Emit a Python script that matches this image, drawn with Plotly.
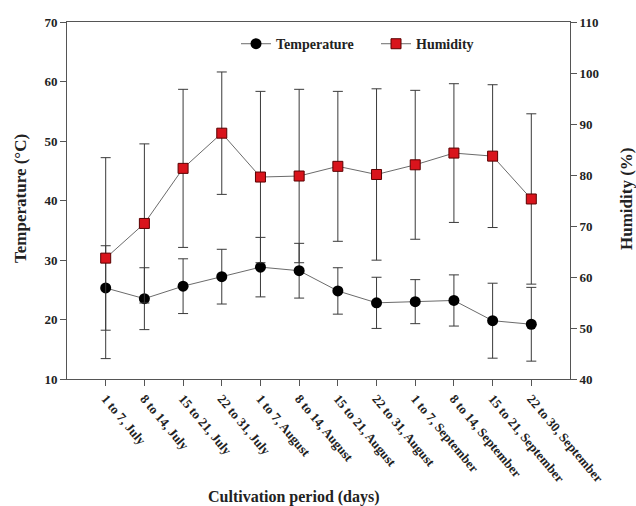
import plotly.graph_objects as go

periods = [
    "1 to 7, July", "8 to 14, July", "15 to 21, July", "22 to 31, July",
    "1 to 7, August", "8 to 14, August", "15 to 21, August", "22 to 31, August",
    "1 to 7, September", "8 to 14, September", "15 to 21, September", "22 to 30, September",
]
temperature = [25.3, 23.5, 25.6, 27.2, 28.8, 28.2, 24.8, 22.8, 23.0, 23.2, 19.8, 19.2]
temperature_err = [7.1, 5.2, 4.6, 4.6, 5.0, 4.6, 3.9, 4.3, 3.7, 4.3, 6.3, 6.2]
humidity = [63.7, 70.5, 81.3, 88.2, 79.6, 79.8, 81.7, 80.1, 82.0, 84.3, 83.7, 75.3]
humidity_err = [19.7, 15.6, 15.5, 12.0, 16.8, 17.0, 14.7, 16.8, 14.6, 13.6, 14.0, 16.7]

x_idx = list(range(len(periods)))
font_family = "Liberation Serif, Times New Roman, serif"
ink = "#222"

fig = go.Figure()

fig.add_trace(go.Scatter(
    x=x_idx, y=temperature, name="<b>Temperature</b>", mode="lines+markers",
    line=dict(color="#6b6b6b", width=1),
    marker=dict(symbol="circle", size=11, color="black"),
    error_y=dict(type="data", array=temperature_err, color="#3a3a3a", thickness=1, width=5),
    yaxis="y",
))
fig.add_trace(go.Scatter(
    x=x_idx, y=humidity, name="<b>Humidity</b>", mode="lines+markers",
    line=dict(color="#6b6b6b", width=1),
    marker=dict(symbol="square", size=10, color="#d9141c", line=dict(color="#5a0000", width=1)),
    error_y=dict(type="data", array=humidity_err, color="#3a3a3a", thickness=1, width=5),
    yaxis="y2",
))

tick_font = dict(family=font_family, size=13, color=ink)
title_font = dict(family=font_family, size=17, color=ink)

fig.update_layout(
    width=636, height=506,
    margin=dict(l=67, r=66, t=22, b=127),
    paper_bgcolor="white", plot_bgcolor="white",
    font=dict(family=font_family, color=ink),
    showlegend=True,
    legend=dict(orientation="h", x=0.336, xanchor="left", y=0.938, yanchor="middle",
                entrywidth=95, entrywidthmode="pixels",
                font=dict(family=font_family, size=14, color=ink),
                bgcolor="rgba(0,0,0,0)"),
    xaxis=dict(
        range=[-1, 12], tickmode="array", tickvals=x_idx,
        ticktext=["<b>%s</b>" % p for p in periods], tickangle=50,
        ticks="outside", ticklen=6, tickcolor="#555",
        tickfont=dict(family=font_family, size=13, color=ink),
        showline=True, linecolor="#555", linewidth=1, mirror=True,
        showgrid=False, zeroline=False, automargin=False,
    ),
    yaxis=dict(
        range=[10, 70], tickvals=[10, 20, 30, 40, 50, 60, 70],
        ticktext=["<b>%d</b>" % v for v in [10, 20, 30, 40, 50, 60, 70]],
        ticks="outside", ticklen=6, tickcolor="#555", tickfont=tick_font,
        showline=True, linecolor="#555", linewidth=1,
        showgrid=False, zeroline=False, automargin=False,
    ),
    yaxis2=dict(
        range=[40, 110], tickvals=[40, 50, 60, 70, 80, 90, 100, 110],
        ticktext=["<b>%d</b>" % v for v in [40, 50, 60, 70, 80, 90, 100, 110]],
        overlaying="y", side="right",
        ticks="outside", ticklen=6, tickcolor="#555", tickfont=tick_font,
        showline=True, linecolor="#555", linewidth=1,
        showgrid=False, zeroline=False, automargin=False,
    ),
)

# axis titles placed in pixel terms around the fixed plot area
plot_l, plot_r, plot_t, plot_b = 67, 636 - 66, 22, 506 - 127
plot_w = plot_r - plot_l
plot_h = plot_b - plot_t


def px_x(px):
    return (px - plot_l) / plot_w


def px_y(py):
    return (plot_b - py) / plot_h


fig.add_annotation(
    text="<b>Cultivation period (days)</b>",
    x=px_x(294), xref="paper", y=px_y(497), yref="paper",
    xanchor="center", yanchor="middle", showarrow=False,
    font=dict(family=font_family, size=16, color=ink),
)
fig.add_annotation(
    text="<b>Temperature (°C)</b>", textangle=-90,
    x=px_x(20), xref="paper", y=px_y(199), yref="paper",
    xanchor="center", yanchor="middle", showarrow=False, font=title_font,
)
fig.add_annotation(
    text="<b>Humidity (%)</b>", textangle=-90,
    x=px_x(626), xref="paper", y=px_y(199), yref="paper",
    xanchor="center", yanchor="middle", showarrow=False, font=title_font,
)

fig.write_html("out.html")
